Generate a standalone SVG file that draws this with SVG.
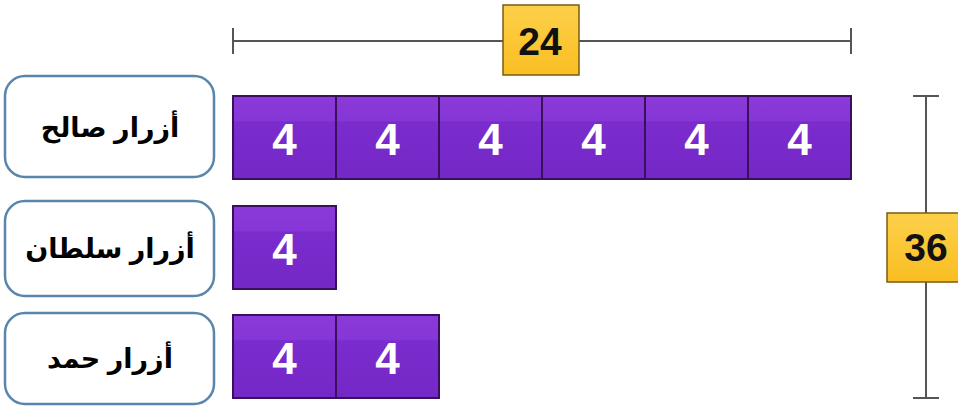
<svg xmlns="http://www.w3.org/2000/svg" width="958" height="407" viewBox="0 0 958 407">
<defs>
<linearGradient id="cellg" x1="0" y1="0" x2="0" y2="1">
<stop offset="0" stop-color="#8a3ad8"/>
<stop offset="0.3" stop-color="#8636d6"/>
<stop offset="0.31" stop-color="#7a2ccc"/>
<stop offset="1" stop-color="#7428c6"/>
</linearGradient>
<linearGradient id="yg" x1="0" y1="0" x2="0" y2="1">
<stop offset="0" stop-color="#fdd04a"/>
<stop offset="1" stop-color="#f9be22"/>
</linearGradient>
</defs>
<style>
.lbl{fill:#fff;stroke:#5a85ad;stroke-width:2.5}
.lt{font-family:"Liberation Sans","DejaVu Sans",sans-serif;font-weight:bold;font-size:27px;fill:#000;text-anchor:middle}
.cell{fill:url(#cellg);stroke:#3a105c;stroke-width:2}
.num{font-family:"Liberation Sans",Arial,sans-serif;font-weight:bold;font-size:44px;fill:#fff;text-anchor:middle}
.ln{stroke:#555;stroke-width:2;fill:none}
.yb{fill:url(#yg);stroke:#7a5c10;stroke-width:1.5}
.yt{font-family:"Liberation Sans",Arial,sans-serif;font-weight:bold;font-size:39px;fill:#111;text-anchor:middle}
</style>
<g id="labels">
<g id="label-saleh"><rect class="lbl" x="5" y="76" width="209" height="101" rx="20"/><text class="lt" x="110" y="137" direction="rtl">أزرار صالح</text></g>
<g id="label-sultan"><rect class="lbl" x="5" y="201" width="209" height="95" rx="20"/><text class="lt" x="110" y="258" direction="rtl">أزرار سلطان</text></g>
<g id="label-hamad"><rect class="lbl" x="5" y="313" width="209" height="91" rx="20"/><text class="lt" x="110" y="368" direction="rtl">أزرار حمد</text></g>
</g>
<g id="bar-saleh">
<rect class="cell" x="233" y="96" width="103" height="83"/>
<rect class="cell" x="336" y="96" width="103" height="83"/>
<rect class="cell" x="439" y="96" width="103" height="83"/>
<rect class="cell" x="542" y="96" width="103" height="83"/>
<rect class="cell" x="645" y="96" width="103" height="83"/>
<rect class="cell" x="748" y="96" width="103" height="83"/>
<text class="num" x="284.5" y="155">4</text>
<text class="num" x="387.5" y="155">4</text>
<text class="num" x="490.5" y="155">4</text>
<text class="num" x="593.5" y="155">4</text>
<text class="num" x="696.5" y="155">4</text>
<text class="num" x="799.5" y="155">4</text>
</g>
<g id="bar-sultan">
<rect class="cell" x="233" y="206" width="103" height="83"/>
<text class="num" x="284.5" y="265">4</text>
</g>
<g id="bar-hamad">
<rect class="cell" x="233" y="315" width="103" height="83"/>
<rect class="cell" x="336" y="315" width="103" height="83"/>
<text class="num" x="284.5" y="374">4</text>
<text class="num" x="387.5" y="374">4</text>
</g>
<g id="connectors">
<line class="ln" x1="233" y1="41" x2="851" y2="41"/>
<line class="ln" x1="233" y1="28" x2="233" y2="54"/>
<line class="ln" x1="851" y1="28" x2="851" y2="54"/>
<line class="ln" x1="926" y1="96" x2="926" y2="398"/>
<line class="ln" x1="913" y1="96" x2="939" y2="96"/>
<line class="ln" x1="913" y1="398" x2="939" y2="398"/>
</g>
<g id="total-24"><rect class="yb" x="503" y="5" width="76" height="70"/><text class="yt" x="540" y="55">24</text></g>
<g id="total-36"><rect class="yb" x="887" y="213" width="75" height="69"/><text class="yt" x="926" y="261" font-size="38">36</text></g>
</svg>
